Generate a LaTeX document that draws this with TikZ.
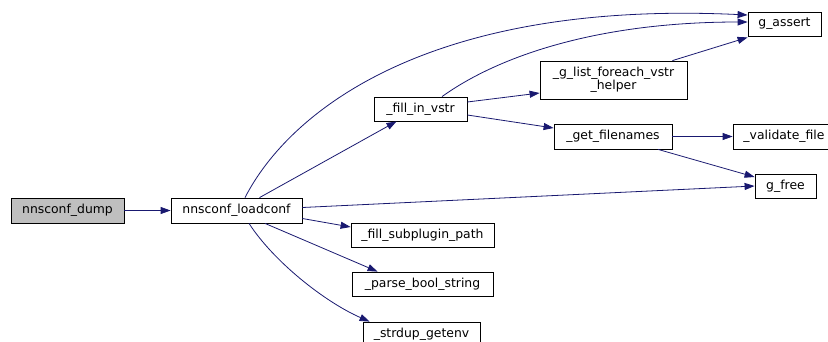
\documentclass[tikz,border=0pt]{standalone}
\usepackage{fontspec}
\setmainfont{DejaVu Sans}
\usetikzlibrary{arrows.meta,calc}
\definecolor{edgeblue}{HTML}{191970}
\definecolor{dumpgray}{HTML}{BFBFBF}
\begin{document}
\begin{tikzpicture}[x=1pt,y=-1pt,
  box/.style={draw=black,line width=0.8pt,fill=white,inner sep=0pt,
    font=\fontsize{12.4}{13}\selectfont,align=center,minimum height=24pt},
  edge/.style={draw=edgeblue,line width=0.8pt,-{Triangle[length=10pt,width=7pt]}}]
\useasboundingbox (0,0) rectangle (828,341);
% nodes
\node[box,fill=dumpgray,minimum width=113pt,minimum height=25pt] (dump) at (67.5,210.5) {nnsconf\_dump};
\node[box,minimum width=131pt,minimum height=25pt] (loadconf) at (236.5,210.5) {nnsconf\_loadconf};
\node[box,minimum width=93pt] (fillin) at (420.5,109) {\_fill\_in\_vstr};
\node[box,minimum width=147pt,minimum height=38pt] (glist) at (613.5,80) {\_g\_list\_foreach\_vstr\\\_helper};
\node[box,minimum width=73pt] (gassert) at (784.5,24) {g\_assert};
\node[box,minimum width=118pt,minimum height=25pt] (getfn) at (613,136.5) {\_get\_filenames};
\node[box,minimum width=102pt,minimum height=25pt] (validate) at (784,136.5) {\_validate\_file};
\node[box,minimum width=61pt] (gfree) at (785.5,186) {g\_free};
\node[box,minimum width=143pt] (subplugin) at (422.5,235) {\_fill\_subplugin\_path};
\node[box,minimum width=141pt] (parse) at (422.5,284) {\_parse\_bool\_string};
\node[box,minimum width=117pt] (strdup) at (421.5,334) {\_strdup\_getenv};
% edges
\draw[edge] (dump.east) -- (loadconf.west);
\draw[edge] ($(loadconf.north)+(8.5,0)$) .. controls (290,110) and (430,0) .. ($(gassert.west)+(0,-9)$);
\draw[edge] ($(fillin.north)+(21.5,0)$) .. controls (500,55) and (600,22) .. ($(gassert.west)+(0,-2)$);
\draw[edge] ($(glist.north east)+(-15,0)$) -- ($(gassert.south west)+(0,1)$);
\draw[edge] ($(loadconf.north)+(23,0)$) -- ($(fillin.south)+(-24,0)$);
\draw[edge] ($(fillin.east)+(0,-7)$) -- ($(glist.west)+(0,13)$);
\draw[edge] ($(fillin.east)+(0,6)$) -- ($(getfn.west)+(0,-8.5)$);
\draw[edge] (getfn.east) -- (validate.west);
\draw[edge] ($(getfn.south)+(45,0)$) -- ($(gfree.west)+(0,-9)$);
\draw[edge] ($(loadconf.east)+(0,-3)$) -- (gfree.west);
\draw[edge] ($(loadconf.east)+(0,8)$) -- ($(subplugin.west)+(0,-8)$);
\draw[edge] ($(loadconf.south)+(28.5,0)$) -- ($(parse.north west)+(26,0)$);
\draw[edge] ($(loadconf.south)+(12.5,0)$) .. controls (274,262) and (325,302) .. ($(strdup.north west)+(7,0)$);
\end{tikzpicture}
\end{document}
